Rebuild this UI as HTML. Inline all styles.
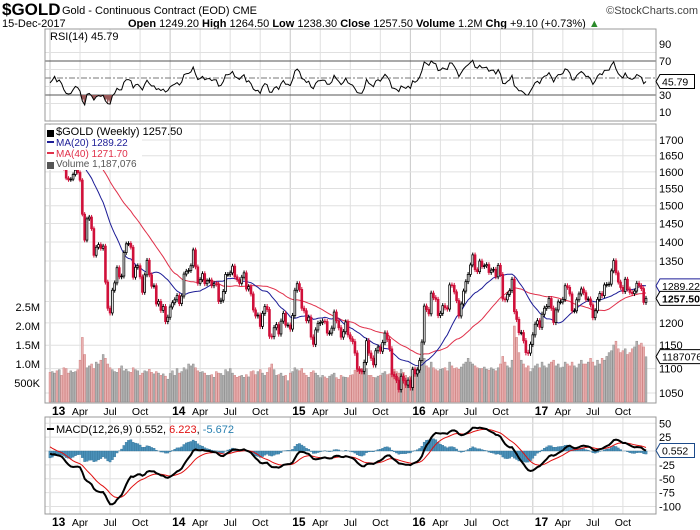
<!DOCTYPE html>
<html><head><meta charset="utf-8"><style>
body{margin:0;background:#fff;}
svg{display:block;font-family:"Liberation Sans",sans-serif;}
</style></head><body>
<svg id="chart" width="700" height="530" xmlns="http://www.w3.org/2000/svg">
<g>
<text x="2" y="15" font-size="17" font-weight="bold">$GOLD</text>
<text x="62" y="14" font-size="11">Gold - Continuous Contract (EOD) CME</text>
<text x="698" y="14" font-size="11" text-anchor="end" fill="#444">©StockCharts.com</text>
<text x="2" y="27" font-size="11">15-Dec-2017</text>
<text x="128" y="27" font-size="11"><tspan font-weight="bold">Open</tspan> 1249.20 <tspan font-weight="bold">High</tspan> 1264.50 <tspan font-weight="bold">Low</tspan> 1238.30 <tspan font-weight="bold">Close</tspan> 1257.50 <tspan font-weight="bold">Volume</tspan> 1.2M <tspan font-weight="bold">Chg</tspan> +9.10 (+0.73%) <tspan fill="#2a8a2a">▲</tspan></text>
</g>
<g id="layer"></g>
</svg>
<script>
// weekly closes before the visible window (used only to warm up indicators)
const priorCloses=[1600,1595,1610,1620,1615,1622,1670,1692,1735,1768,1775,1780,1775,1760,1765,1720,1708,1715,1730,1750,1730,1715,1715,1728,1745,1750,1715,1700,1710,1697,1666,1658,1660];
const closes=[1657,1668,1685,1659,1667,1649,1610,1581,1576,1578,1592,1605,1598,1575,1476,1405,1463,1468,1436,1365,1386,1393,1383,1389,1297,1234,1223,1277,1295,1333,1310,1312,1372,1395,1396,1386,1309,1334,1338,1310,1272,1315,1352,1315,1287,1288,1244,1250,1229,1238,1203,1213,
1237,1247,1254,1264,1245,1263,1317,1324,1326,1338,1379,1335,1294,1303,1318,1293,1300,1302,1288,1293,1292,1250,1253,1274,1316,1316,1320,1337,1310,1303,1294,1309,1320,1280,1286,1268,1230,1216,1218,1192,1222,1238,1231,1170,1169,1189,1196,1175,1204,1222,1195,1195,
1186,1217,1277,1293,1279,1234,1228,1205,1213,1168,1152,1184,1199,1201,1204,1203,1177,1177,1188,1225,1205,1189,1168,1180,1202,1173,1164,1158,1133,1099,1095,1094,1113,1160,1133,1122,1108,1138,1146,1137,1156,1177,1163,1142,1088,1084,1076,1057,1084,1075,1066,1076,
1061,1098,1089,1097,1117,1157,1239,1231,1221,1270,1259,1255,1217,1222,1240,1235,1232,1290,1289,1273,1252,1216,1244,1275,1298,1316,1340,1366,1328,1323,1350,1336,1338,1341,1321,1327,1329,1310,1339,1316,1256,1254,1267,1276,1304,1226,1208,1178,1178,1160,1134,1133,1152,
1173,1197,1205,1190,1220,1234,1238,1257,1234,1201,1230,1249,1249,1255,1288,1284,1268,1228,1228,1254,1268,1280,1271,1255,1256,1242,1212,1228,1255,1269,1264,1290,1291,1292,1325,1351,1320,1297,1284,1274,1304,1280,1272,1269,1275,1294,1288,1281,1248,1257.5];
const volumes=[780,800,760,820,850,700,900,880,760,820,780,800,850,1100,1700,1250,900,950,1000,880,1050,1000,1100,1250,1150,1000,900,850,800,780,880,950,820,860,800,780,900,850,820,700,760,820,800,860,780,740,800,760,700,740,680,600,
750,820,700,880,760,800,900,850,1000,950,1000,900,820,780,800,760,700,700,720,650,800,760,750,700,850,800,880,760,700,650,680,700,650,720,660,800,820,720,800,850,760,700,780,900,1000,850,700,720,760,680,700,560,
760,800,900,850,820,880,760,700,650,780,820,760,700,640,700,660,620,680,720,760,640,600,700,660,650,640,700,720,840,950,880,860,820,880,700,700,650,640,680,700,760,800,720,740,920,860,800,760,860,780,700,500,
680,900,880,860,900,1000,1150,950,900,1050,900,850,820,860,880,900,820,1050,950,880,900,860,920,1000,1050,1150,1050,1000,950,900,880,880,920,860,840,900,860,820,900,1000,1200,1050,950,900,1100,2000,1700,1300,1100,1000,900,950,800,
880,950,1000,900,1050,950,900,1000,1050,1100,950,1000,900,920,1050,1000,950,1050,950,900,1000,1100,1000,1000,1050,1150,1050,950,1100,1000,1150,1100,1200,1300,1350,1500,1600,1400,1300,1350,1400,1250,1300,1400,1450,1600,1500,1550,1450,1190];
const priceTicks=[1050,1100,1150,1200,1250,1300,1350,1400,1450,1500,1550,1600,1650,1700];
const priceTickLabels=["1050","1100","1150","1200","","","1350","1400","1450","1500","1550","1600","1650","1700"];
const volTicks=[500,1000,1500,2000,2500];
const volTickLabels=["500K","1.0M","1.5M","2.0M","2.5M"];
const rsiTicks=[10,30,50,70,90];
const macdTicks=[-100,-75,-50,-25,0,25,50];
const dateTickIdx=[0,13,26,39,52,65,78,91,104,117,130,143,156,169,182,195,209,222,235,248];
const dateTickLabels=["13","Apr","Jul","Oct","14","Apr","Jul","Oct","15","Apr","Jul","Oct","16","Apr","Jul","Oct","17","Apr","Jul","Oct"];

const NS="http://www.w3.org/2000/svg";
const layer=document.getElementById('layer');
function mk(tag,attrs,parent){const e=document.createElementNS(NS,tag);for(const k in attrs)e.setAttribute(k,attrs[k]);(parent||layer).appendChild(e);return e;}
const L=45,R=656,N=closes.length,P=priorCloses.length;
const xOf=i=>50+i*(596/(N-1));
const yP=p=>393-525*Math.log(p/1050);
const yV=v=>402-v/1000*38;
const yR=v=>61+(70-v)*0.85;
const yM=v=>451-v*0.555;

const all=priorCloses.concat(closes);
function sma(a,n){return a.map((_,i)=>i<n-1?null:a.slice(i-n+1,i+1).reduce((s,v)=>s+v,0)/n);}
function ema(a,n){const k=2/(n+1);let r=[];a.forEach((v,i)=>r.push(i===0?v:v*k+r[i-1]*(1-k)));return r;}
const ma20=sma(all,20).slice(P),ma40=sma(all,40).slice(P);
const rsiAll=[];{let ag=0,al=0;for(let i=0;i<all.length;i++){if(i===0){rsiAll.push(50);continue;}const d=all[i]-all[i-1];const g=Math.max(d,0),l=Math.max(-d,0);if(i<=14){ag+=g/14;al+=l/14;}else{ag=(ag*13+g)/14;al=(al*13+l)/14;}rsiAll.push(al===0?100:100-100/(1+ag/al));}}
const rsi=rsiAll.slice(P);
const e12=ema(all,12),e26=ema(all,26);
const macdAll=all.map((_,i)=>e12[i]-e26[i]);
const sigAll=ema(macdAll,9);
const macd=macdAll.slice(P),sig=sigAll.slice(P);
const hist=macd.map((v,i)=>v-sig[i]);

function panel(top,bot,name){
  const g=mk('g',{},layer);
  
  
  dateTickIdx.forEach((ix,k)=>{const x=xOf(ix);const ln=mk('line',{x1:x,x2:x,y1:top,y2:bot,stroke:dateTickLabels[k].length===2?'#c8c8c8':'#e0e0e0','stroke-width':1},g);
    
    });
  return g;
}
function frame(top,bot,g){const r=mk('rect',{x:L,y:top,width:R-L,height:bot-top,fill:'none',stroke:'#999','stroke-width':1},g);
  
  }
function hline(y,g,col,nm){const l=mk('line',{x1:L,x2:R,y1:y,y2:y,stroke:col||'#e0e0e0'},g);
  
  return l;}
function rlabel(y,txt,g,nm,anchor){const t=mk('text',{x:anchor==='left'?40:659,y:y+4,'font-size':11,'text-anchor':anchor==='left'?'end':'start'},g);t.textContent=txt;
  
  return t;}
function path(vals,yf,g,col,w,nm){let d='';vals.forEach((v,i)=>{if(v==null)return;d+=(d?'L':'M')+xOf(i).toFixed(1)+','+yf(v).toFixed(1);});const p=mk('path',{d:d,fill:'none',stroke:col,'stroke-width':w},g);
  
  return p;}
function valBox(y,txt,g,col,bold,nm){const w=txt.length*5.9+5;const b=mk('path',{d:`M656,${y} L660,${y-7} L${660+w},${y-7} L${660+w},${y+7} L660,${y+7} Z`,fill:'#fff',stroke:col,'stroke-width':1},g);
  
  
  const t=mk('text',{x:662,y:y+4,'font-size':10.5,'font-weight':bold?'bold':'normal'},g);t.textContent=txt;
  
  }

// ===== RSI panel
const rT=29,rB=121;
const rg=panel(rT,rB,'rsi-panel');
[20,40,60,80].forEach(v=>hline(yR(v),rg));
rsiTicks.forEach(v=>rlabel(yR(v),v===50?'':String(v),rg,'rsi-tick-label'));
hline(yR(70),rg,'#555','rsi-overbought-line');
hline(yR(30),rg,'#555','rsi-oversold-line');
const mid=hline(yR(50),rg,'#777','rsi-midline');mid.setAttribute('stroke-dasharray','6,2,2,2');
{let d='';for(let i=1;i<N;i++){if(rsi[i]<30){d+=`M${xOf(i-1)},${yR(30)} L${xOf(i)},${yR(rsi[i])} L${xOf(i+1)},${yR(30)} Z `;}}
 const f=mk('path',{d:d||'M0,0',fill:'#9a5a5a'},rg);
 
 }
path(rsi,yR,rg,'#000',1,'rsi-line');
frame(rT,rB,rg);
{const t=mk('text',{x:50,y:40,'font-size':11},rg);t.textContent='RSI(14) 45.79';
 
 }
valBox(yR(rsi[N-1]),'45.79',rg,'#000',false,'rsi-value-label');

// ===== Main panel
const mT=124,mB=403;
const mg=panel(mT,mB,'price-panel');
priceTicks.forEach((p,k)=>{hline(yP(p),mg);rlabel(yP(p),priceTickLabels[k],mg,'price-tick-label');});
volTicks.forEach((v,k)=>rlabel(yV(v),volTickLabels[k],mg,'volume-tick-label','left'));
const bw=1.9;
volumes.forEach((v,i)=>{const prev=i>0?closes[i-1]:priorCloses[P-1];const down=closes[i]<prev;const r=mk('rect',{x:xOf(i)-bw/2,y:yV(v),width:bw,height:402-yV(v),fill:down?'#e8b0b0':'#b4b4b4',stroke:down?'#d08080':'#8c8c8c','stroke-width':0.5},mg);
  
  });
path(ma40,yP,mg,'#e0304a',1,'ma40-line');
path(ma20,yP,mg,'#1c1c96',1,'ma20-line');
closes.forEach((c,i)=>{const o=i===0?priorCloses[P-1]:closes[i-1];const down=c<o;const col=down?'#d0103a':'#000';const x=xOf(i);
  const hi=Math.max(o,c)+6,lo=Math.min(o,c)-6;
  const w=mk('line',{x1:x,x2:x,y1:yP(hi),y2:yP(lo),stroke:col,'stroke-width':1},mg);
  
  
  const yt=yP(Math.max(o,c)),yb=yP(Math.min(o,c));
  const b=mk('rect',{x:x-0.9,y:yt,width:1.8,height:Math.max(yb-yt,0.8),fill:down?col:'#fff',stroke:col,'stroke-width':0.8},mg);
  
  });
{const bg=mk('rect',{x:46,y:125,width:96,height:45,fill:'#fff'},mg);
 
 
 const items=[['$GOLD (Weekly) 1257.50','#000',11,135],['MA(20) 1289.22','#1c1c96',10,146],['MA(40) 1271.70','#e0304a',10,157],['Volume 1,187,076','#555',10,167]];
 items.forEach((it,k)=>{const t=mk('text',{x:56,y:it[3],'font-size':it[2],fill:it[1]},mg);t.textContent=it[0];
   
   
   const s=mk('rect',{x:47,y:it[3]-5,width:7,height:k===0||k===3?7:2,fill:it[1]},mg);
   
   });}
frame(mT,mB,mg);
valBox(yP(ma20[N-1]),'1289.22',mg,'#1c1c96',false,'ma20-value-label');
valBox(yP(closes[N-1]),closes[N-1].toFixed(2),mg,'#000',true,'close-value-label');
valBox(yP(1100)-12,'1187076',mg,'#000',false,'volume-value-label');

function dateAxis(y,nm){dateTickIdx.forEach((ix,k)=>{const yr=dateTickLabels[k].length===2;const t=mk('text',{x:xOf(ix)+(yr?2:0),y:y,'font-size':yr?12:10.5,'font-weight':yr?'bold':'normal','text-anchor':yr?'start':'middle'},layer);t.textContent=dateTickLabels[k];
  
  });}
dateAxis(415,'date-tick-label');

// ===== MACD
const cT=417,cB=514;
const cg=panel(cT,cB,'macd-panel');
macdTicks.forEach(v=>{hline(yM(v),cg);rlabel(yM(v),String(v),cg,'macd-tick-label');});
hist.forEach((h,i)=>{const y0=yM(0),y1=yM(h);const r=mk('rect',{x:xOf(i)-1.15,y:Math.min(y0,y1),width:2.3,height:Math.abs(y1-y0),fill:'#4a90b8',stroke:'#2a6a90','stroke-width':0.3},cg);
  
  });
path(sig,yM,cg,'#e01010',1,'macd-signal-line');
path(macd,yM,cg,'#000',2,'macd-line');
frame(cT,cB,cg);
{const t=mk('text',{x:56,y:433,'font-size':11},cg);t.innerHTML='MACD(12,26,9) 0.552, <tspan fill="#e01010">6.223</tspan>, <tspan fill="#2a80b0">-5.672</tspan>';
 
 
 const s=mk('rect',{x:47,y:428,width:7,height:2,fill:'#000'},cg);
 
 }
valBox(yM(macd[N-1]),'0.552',cg,'#1c4a8a',false,'macd-value-label');
dateAxis(526,'bottom-date-tick-label');
</script>
</body></html>
